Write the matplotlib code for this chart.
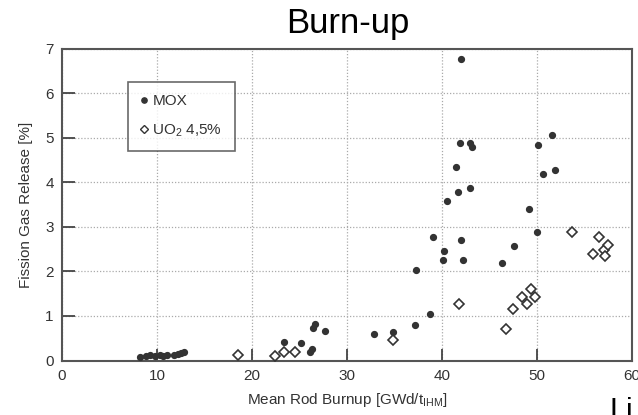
import matplotlib
matplotlib.use("Agg")
import matplotlib.pyplot as plt
from matplotlib.lines import Line2D

plt.rcParams['font.family'] = ['Liberation Sans', 'DejaVu Sans']

# MOX data
mox_x = [8.2, 8.8, 9.3, 9.8, 10.3, 10.6, 11.1, 11.8, 12.2, 12.5, 12.8,
         23.4, 25.2, 26.1, 26.3, 26.4, 26.6, 27.7, 32.8, 34.8, 37.2, 37.3,
         38.7, 39.0, 40.1, 40.2, 40.5, 41.5, 41.7, 41.9, 42.0, 42.0, 42.2,
         42.9, 42.9, 43.2, 46.3, 47.6, 49.2, 50.0, 50.1, 50.6, 51.6, 51.9]
mox_y = [0.07, 0.10, 0.12, 0.10, 0.12, 0.10, 0.12, 0.13, 0.15, 0.17, 0.20,
         0.42, 0.40, 0.20, 0.25, 0.74, 0.83, 0.66, 0.60, 0.63, 0.80, 2.02,
         1.04, 2.76, 2.25, 2.46, 3.58, 4.34, 3.77, 4.89, 6.77, 2.70, 2.25,
         4.89, 3.86, 4.78, 2.19, 2.58, 3.40, 2.88, 4.84, 4.18, 5.07, 4.28]

# UO2 4,5% data
uo2_x = [18.5, 22.4, 23.4, 24.5, 34.8, 41.8, 46.7, 47.5, 48.4, 48.9, 49.4,
         49.8, 53.7, 55.9, 56.5, 57.0, 57.2, 57.5]
uo2_y = [0.12, 0.10, 0.20, 0.20, 0.46, 1.26, 0.70, 1.16, 1.43, 1.27, 1.60,
         1.43, 2.88, 2.39, 2.76, 2.48, 2.34, 2.59]

x_ticks = [0, 10, 20, 30, 40, 50, 60]
y_ticks = [0, 1, 2, 3, 4, 5, 6, 7]

W, H = 638, 415
fig = plt.figure(figsize=(W / 100, H / 100), dpi=100)
ax = fig.add_axes([62 / W, 1 - 360.5 / H, 570 / W, 312 / H])

dark = '#333333'
ax.plot(mox_x, mox_y, 'o', color=dark, markersize=4.2, linestyle='none', zorder=3)
ax.plot(uo2_x, uo2_y, 'D', markerfacecolor='white', markeredgecolor=dark,
        markeredgewidth=1.2, markersize=5, linestyle='none', zorder=3)

ax.set_xlim(0, 60)
ax.set_ylim(0, 7)
ax.set_xticks(x_ticks)
ax.set_yticks(y_ticks)
ax.tick_params(direction='in', length=9, width=1.3, color='#444444',
               labelsize=11, labelcolor='#333333', pad=6)
ax.grid(True, linestyle=(0, (1, 1.5)), color='#aaaaaa', linewidth=0.9)
for s in ax.spines.values():
    s.set_color('#555555')
    s.set_linewidth(1.5)

ax.set_xlabel('Mean Rod Burnup [GWd/t$_{\\mathregular{IHM}}$]', fontsize=11,
              color='#333333', labelpad=6)
ax.set_ylabel('Fission Gas Release [%]', fontsize=11, color='#333333', labelpad=9)

handles = [
    Line2D([], [], marker='o', color=dark, linestyle='none', markersize=3.8),
    Line2D([], [], marker='D', markerfacecolor='white', markeredgecolor=dark,
           markeredgewidth=1.0, linestyle='none', markersize=4.2),
]
leg = fig.legend(handles, ['MOX', 'UO$_\\mathregular{2}$ 4,5%'],
                 loc='upper left', bbox_to_anchor=(128 / W, 1 - 82 / H),
                 frameon=True, fancybox=False, edgecolor='#444444',
                 fontsize=11, handlelength=0.5, handletextpad=0.3,
                 labelspacing=0.9, borderpad=0.8, borderaxespad=0)
leg.get_frame().set_linewidth(1.2)
for t in leg.get_texts():
    t.set_color('#333333')

fig.text(348 / W, 1 - 23 / H, 'Burn-up', fontsize=25, ha='center', va='center',
         color='black')
fig.text(609 / W, 1 - 420 / H, 'Li', fontsize=22, ha='left', va='baseline',
         color='black')

fig.savefig('out.png', dpi=100)
